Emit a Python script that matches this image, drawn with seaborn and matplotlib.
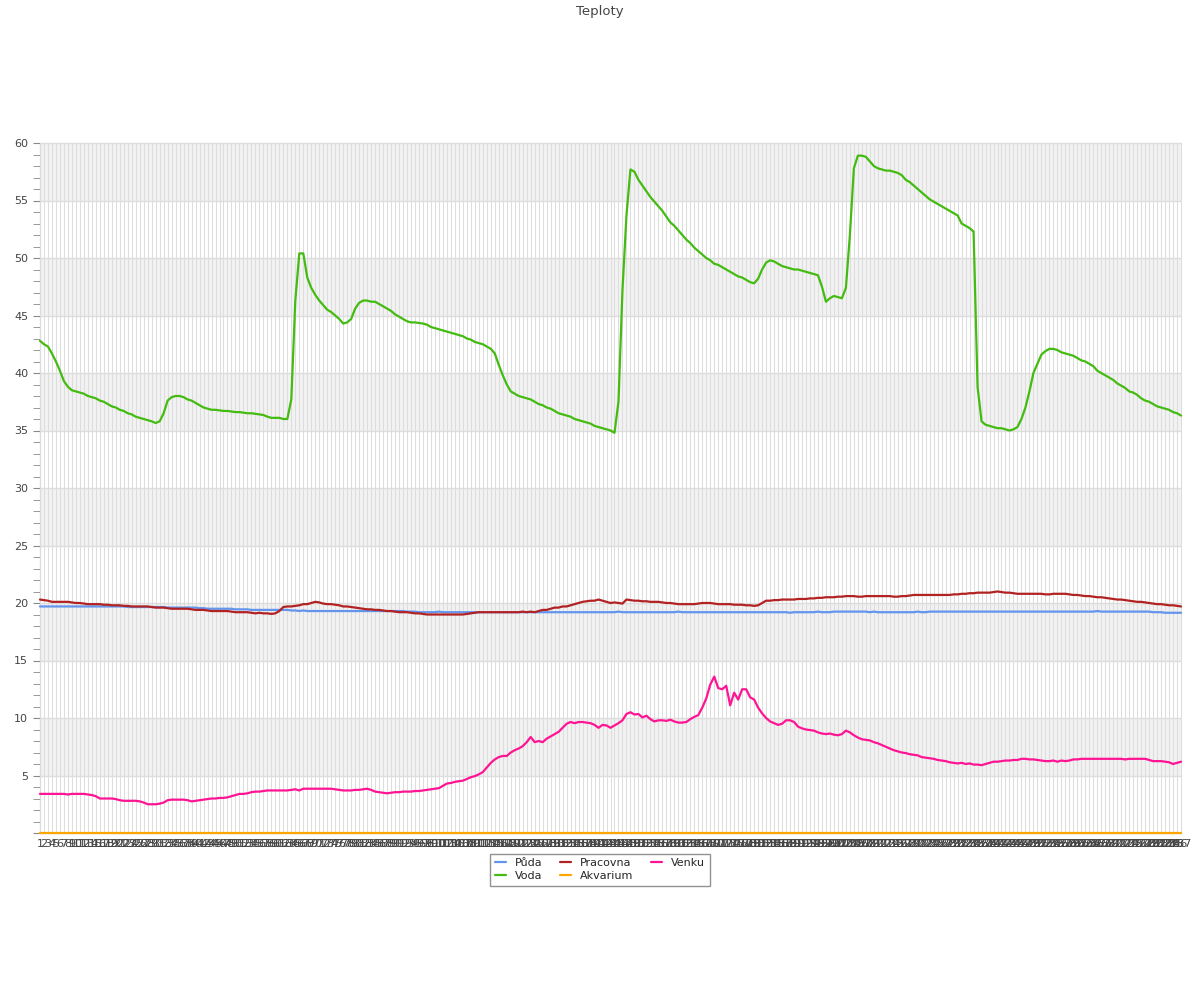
import pandas as pd
import matplotlib.pyplot as plt
import seaborn as sns

# hourly readings, categories 1..287
labels = [str(i) for i in range(1, 288)]

puda = [
    19.7, 19.7, 19.7, 19.7, 19.7, 19.7, 19.7, 19.7, 19.7, 19.7,
    19.7, 19.7, 19.7, 19.7, 19.7, 19.7, 19.7, 19.7, 19.7, 19.7,
    19.7, 19.7, 19.65, 19.65, 19.65, 19.65, 19.65, 19.65, 19.65, 19.65,
    19.65, 19.65, 19.6, 19.6, 19.6, 19.6, 19.6, 19.6, 19.6, 19.6,
    19.55, 19.55, 19.5, 19.5, 19.5, 19.5, 19.5, 19.5, 19.5, 19.45,
    19.45, 19.45, 19.45, 19.4, 19.4, 19.4, 19.4, 19.4, 19.4, 19.4,
    19.4, 19.4, 19.4, 19.35, 19.35, 19.3, 19.35, 19.3, 19.3, 19.3,
    19.3, 19.3, 19.3, 19.3, 19.3, 19.3, 19.3, 19.3, 19.3, 19.3,
    19.3, 19.3, 19.3, 19.3, 19.3, 19.3, 19.3, 19.3, 19.3, 19.3,
    19.3, 19.3, 19.25, 19.25, 19.25, 19.2, 19.2, 19.2, 19.2, 19.2,
    19.25, 19.2, 19.2, 19.2, 19.2, 19.2, 19.2, 19.2, 19.2, 19.2,
    19.2, 19.2, 19.2, 19.2, 19.2, 19.2, 19.2, 19.2, 19.2, 19.2,
    19.2, 19.2, 19.2, 19.2, 19.2, 19.2, 19.2, 19.2, 19.2, 19.2,
    19.2, 19.2, 19.2, 19.2, 19.2, 19.2, 19.2, 19.2, 19.2, 19.2,
    19.2, 19.2, 19.2, 19.2, 19.2, 19.25, 19.2, 19.2, 19.2, 19.2,
    19.2, 19.2, 19.2, 19.2, 19.2, 19.2, 19.2, 19.2, 19.2, 19.2,
    19.25, 19.2, 19.2, 19.2, 19.2, 19.2, 19.2, 19.2, 19.2, 19.2,
    19.2, 19.2, 19.2, 19.2, 19.2, 19.2, 19.2, 19.2, 19.2, 19.2,
    19.2, 19.2, 19.2, 19.2, 19.2, 19.2, 19.2, 19.2, 19.15, 19.2,
    19.2, 19.2, 19.2, 19.2, 19.2, 19.25, 19.2, 19.2, 19.2, 19.25,
    19.25, 19.25, 19.25, 19.25, 19.25, 19.25, 19.25, 19.25, 19.2, 19.25,
    19.2, 19.2, 19.2, 19.2, 19.2, 19.2, 19.2, 19.2, 19.2, 19.2,
    19.25, 19.2, 19.2, 19.25, 19.25, 19.25, 19.25, 19.25, 19.25, 19.25,
    19.25, 19.25, 19.25, 19.25, 19.25, 19.25, 19.25, 19.25, 19.25, 19.25,
    19.25, 19.25, 19.25, 19.25, 19.25, 19.25, 19.25, 19.25, 19.25, 19.25,
    19.25, 19.25, 19.25, 19.25, 19.25, 19.25, 19.25, 19.25, 19.25, 19.25,
    19.25, 19.25, 19.25, 19.25, 19.25, 19.3, 19.25, 19.25, 19.25, 19.25,
    19.25, 19.25, 19.25, 19.25, 19.25, 19.25, 19.25, 19.25, 19.25, 19.2,
    19.2, 19.2, 19.15, 19.15, 19.15, 19.15, 19.15,
]

voda = [
    42.8, 42.5, 42.3, 41.7, 41.0, 40.2, 39.3, 38.8, 38.5, 38.4,
    38.3, 38.2, 38.0, 37.9, 37.8, 37.6, 37.5, 37.3, 37.1, 37.0,
    36.8, 36.7, 36.5, 36.4, 36.2, 36.1, 36.0, 35.9, 35.8, 35.65,
    35.8, 36.5, 37.6, 37.9, 38.0, 38.0, 37.9, 37.7, 37.6, 37.4,
    37.2, 37.0, 36.9, 36.8, 36.8, 36.75, 36.7, 36.7, 36.65, 36.6,
    36.6, 36.55, 36.5, 36.5, 36.45, 36.4, 36.35, 36.2, 36.1, 36.1,
    36.1, 36.0, 36.0, 37.7, 46.3, 50.4, 50.4, 48.3, 47.4, 46.8,
    46.3, 45.9, 45.5, 45.3, 45.0, 44.7, 44.3, 44.4, 44.7, 45.6,
    46.1, 46.3, 46.3, 46.2, 46.2, 46.0, 45.8, 45.6, 45.4, 45.1,
    44.9, 44.7, 44.5, 44.4, 44.4, 44.35, 44.3, 44.2, 44.0, 43.9,
    43.8, 43.7, 43.6, 43.5, 43.4, 43.3, 43.2, 43.0, 42.9, 42.7,
    42.6, 42.5, 42.3, 42.1, 41.7, 40.7, 39.8, 39.0, 38.4, 38.2,
    38.0, 37.9, 37.8, 37.7, 37.5, 37.3, 37.2, 37.0, 36.9, 36.7,
    36.5, 36.4, 36.3, 36.2, 36.0, 35.9, 35.8, 35.7, 35.6, 35.4,
    35.3, 35.2, 35.1, 35.0, 34.8, 37.5, 47.2, 53.7, 57.7, 57.5,
    56.8, 56.3, 55.8, 55.3, 54.9, 54.5, 54.1, 53.6, 53.1, 52.8,
    52.4, 52.0, 51.6, 51.3, 50.9, 50.6, 50.3, 50.0, 49.8, 49.5,
    49.4, 49.2, 49.0, 48.8, 48.6, 48.4, 48.3, 48.1, 47.9, 47.8,
    48.2, 49.0, 49.6, 49.8, 49.7, 49.5, 49.3, 49.2, 49.1, 49.0,
    49.0, 48.9, 48.8, 48.7, 48.6, 48.5, 47.5, 46.2, 46.5, 46.7,
    46.6, 46.5, 47.4, 52.0, 57.8, 58.9, 58.9, 58.8, 58.4, 58.0,
    57.8, 57.7, 57.6, 57.6, 57.5, 57.4, 57.2, 56.8, 56.6, 56.3,
    56.0, 55.7, 55.4, 55.1, 54.9, 54.7, 54.5, 54.3, 54.1, 53.9,
    53.7, 53.0, 52.8, 52.6, 52.3, 38.8, 35.8, 35.5, 35.4, 35.3,
    35.2, 35.2, 35.1, 35.0, 35.1, 35.3, 36.0, 37.0, 38.4, 40.0,
    40.8, 41.6, 41.9, 42.1, 42.1, 42.0, 41.8, 41.7, 41.6, 41.5,
    41.3, 41.1, 41.0, 40.8, 40.6, 40.2, 40.0, 39.8, 39.6, 39.4,
    39.1, 38.9, 38.7, 38.4, 38.3, 38.1, 37.8, 37.6, 37.5, 37.3,
    37.1, 37.0, 36.9, 36.8, 36.6, 36.5, 36.3,
]

pracovna = [
    20.3, 20.25, 20.2, 20.1, 20.1, 20.1, 20.1, 20.1, 20.05, 20.0,
    20.0, 19.95, 19.9, 19.9, 19.9, 19.9, 19.85, 19.85, 19.8, 19.8,
    19.8, 19.75, 19.75, 19.7, 19.7, 19.7, 19.7, 19.7, 19.65, 19.6,
    19.6, 19.6, 19.55, 19.5, 19.5, 19.5, 19.5, 19.5, 19.45, 19.4,
    19.4, 19.4, 19.35, 19.3, 19.3, 19.3, 19.3, 19.3, 19.25, 19.2,
    19.2, 19.2, 19.2, 19.15, 19.1, 19.15, 19.1, 19.1, 19.05, 19.1,
    19.3, 19.65, 19.7, 19.7, 19.75, 19.8, 19.9, 19.9, 20.0, 20.1,
    20.05, 19.95, 19.9, 19.9, 19.85, 19.8, 19.7, 19.7, 19.65, 19.6,
    19.55, 19.5, 19.45, 19.45, 19.4, 19.4, 19.35, 19.3, 19.3, 19.25,
    19.2, 19.2, 19.2, 19.15, 19.1, 19.1, 19.05, 19.0, 19.0, 19.0,
    19.0, 19.0, 19.0, 19.0, 19.0, 19.0, 19.0, 19.05, 19.1, 19.15,
    19.2, 19.2, 19.2, 19.2, 19.2, 19.2, 19.2, 19.2, 19.2, 19.2,
    19.2, 19.25, 19.2, 19.25, 19.2, 19.3, 19.4, 19.4, 19.5, 19.6,
    19.6, 19.7, 19.7, 19.8, 19.9, 20.0, 20.1, 20.15, 20.2, 20.2,
    20.3, 20.2, 20.1, 20.0, 20.05, 20.0, 19.95, 20.3, 20.25, 20.2,
    20.2, 20.15, 20.15, 20.1, 20.1, 20.1, 20.05, 20.0, 20.0, 19.95,
    19.9, 19.9, 19.9, 19.9, 19.9, 19.95, 20.0, 20.0, 20.0, 19.95,
    19.9, 19.9, 19.9, 19.9, 19.85, 19.85, 19.85, 19.8, 19.8, 19.75,
    19.8, 20.0, 20.2, 20.2, 20.25, 20.25, 20.3, 20.3, 20.3, 20.3,
    20.35, 20.35, 20.35, 20.4, 20.4, 20.45, 20.45, 20.5, 20.5, 20.5,
    20.55, 20.55, 20.6, 20.6, 20.6, 20.55, 20.55, 20.6, 20.6, 20.6,
    20.6, 20.6, 20.6, 20.6, 20.55, 20.55, 20.6, 20.6, 20.65, 20.7,
    20.7, 20.7, 20.7, 20.7, 20.7, 20.7, 20.7, 20.7, 20.7, 20.75,
    20.75, 20.8, 20.8, 20.85, 20.85, 20.9, 20.9, 20.9, 20.9, 20.95,
    21.0, 20.95, 20.9, 20.9, 20.85, 20.8, 20.8, 20.8, 20.8, 20.8,
    20.8, 20.8, 20.75, 20.75, 20.8, 20.8, 20.8, 20.8, 20.75, 20.7,
    20.7, 20.65, 20.6, 20.6, 20.55, 20.5, 20.5, 20.45, 20.4, 20.35,
    20.3, 20.3, 20.25, 20.2, 20.15, 20.1, 20.1, 20.05, 20.0, 19.95,
    19.9, 19.9, 19.85, 19.8, 19.8, 19.75, 19.7,
]

akvarium = [
    0, 0, 0, 0, 0, 0, 0, 0, 0, 0, 0, 0, 0, 0, 0, 0, 0, 0, 0, 0,
    0, 0, 0, 0, 0, 0, 0, 0, 0, 0, 0, 0, 0, 0, 0, 0, 0, 0, 0, 0,
    0, 0, 0, 0, 0, 0, 0, 0, 0, 0, 0, 0, 0, 0, 0, 0, 0, 0, 0, 0,
    0, 0, 0, 0, 0, 0, 0, 0, 0, 0, 0, 0, 0, 0, 0, 0, 0, 0, 0, 0,
    0, 0, 0, 0, 0, 0, 0, 0, 0, 0, 0, 0, 0, 0, 0, 0, 0, 0, 0, 0,
    0, 0, 0, 0, 0, 0, 0, 0, 0, 0, 0, 0, 0, 0, 0, 0, 0, 0, 0, 0,
    0, 0, 0, 0, 0, 0, 0, 0, 0, 0, 0, 0, 0, 0, 0, 0, 0, 0, 0, 0,
    0, 0, 0, 0, 0, 0, 0, 0, 0, 0, 0, 0, 0, 0, 0, 0, 0, 0, 0, 0,
    0, 0, 0, 0, 0, 0, 0, 0, 0, 0, 0, 0, 0, 0, 0, 0, 0, 0, 0, 0,
    0, 0, 0, 0, 0, 0, 0, 0, 0, 0, 0, 0, 0, 0, 0, 0, 0, 0, 0, 0,
    0, 0, 0, 0, 0, 0, 0, 0, 0, 0, 0, 0, 0, 0, 0, 0, 0, 0, 0, 0,
    0, 0, 0, 0, 0, 0, 0, 0, 0, 0, 0, 0, 0, 0, 0, 0, 0, 0, 0, 0,
    0, 0, 0, 0, 0, 0, 0, 0, 0, 0, 0, 0, 0, 0, 0, 0, 0, 0, 0, 0,
    0, 0, 0, 0, 0, 0, 0, 0, 0, 0, 0, 0, 0, 0, 0, 0, 0, 0, 0, 0,
    0, 0, 0, 0, 0, 0, 0,
]

venku = [
    3.4, 3.4, 3.4, 3.4, 3.4, 3.4, 3.4, 3.35, 3.4, 3.4,
    3.4, 3.4, 3.35, 3.3, 3.2, 3.0, 3.0, 3.0, 3.0, 2.95,
    2.85, 2.8, 2.8, 2.8, 2.8, 2.75, 2.65, 2.5, 2.5, 2.5,
    2.55, 2.65, 2.85, 2.9, 2.9, 2.9, 2.9, 2.85, 2.75, 2.8,
    2.85, 2.9, 2.95, 3.0, 3.0, 3.05, 3.05, 3.1, 3.2, 3.3,
    3.4, 3.4, 3.45, 3.55, 3.6, 3.6, 3.65, 3.7, 3.7, 3.7,
    3.7, 3.7, 3.7, 3.75, 3.8, 3.7, 3.85, 3.85, 3.85, 3.85,
    3.85, 3.85, 3.85, 3.85, 3.8, 3.75, 3.7, 3.7, 3.7, 3.75,
    3.75, 3.8, 3.85, 3.75, 3.6, 3.55, 3.5, 3.45, 3.5, 3.55,
    3.55, 3.6, 3.6, 3.6, 3.65, 3.65, 3.7, 3.75, 3.8, 3.85,
    3.9, 4.1, 4.3, 4.35, 4.45, 4.5, 4.55, 4.7, 4.85, 4.95,
    5.1, 5.3, 5.7, 6.1, 6.4, 6.6, 6.7, 6.7, 7.0, 7.2,
    7.35, 7.55, 7.9, 8.35, 7.9, 8.0, 7.9, 8.2, 8.4, 8.6,
    8.8, 9.15, 9.5, 9.65, 9.55, 9.65, 9.65, 9.6, 9.55, 9.4,
    9.15, 9.4, 9.35, 9.15, 9.35, 9.55, 9.8, 10.35, 10.5, 10.3,
    10.35, 10.05, 10.2, 9.9, 9.7, 9.8, 9.8, 9.75, 9.85, 9.7,
    9.6, 9.6, 9.65, 9.9, 10.1, 10.25, 10.9, 11.7, 12.9, 13.6,
    12.6, 12.5, 12.8, 11.1, 12.2, 11.6, 12.5, 12.5, 11.8, 11.6,
    10.9, 10.4, 10.0, 9.7, 9.55, 9.4, 9.5, 9.8, 9.8, 9.65,
    9.25, 9.1, 9.0, 8.95, 8.9, 8.75, 8.65, 8.6, 8.65, 8.55,
    8.5, 8.6, 8.9, 8.75, 8.5, 8.3, 8.15, 8.1, 8.05, 7.9,
    7.8, 7.65, 7.5, 7.35, 7.2, 7.1, 7.0, 6.95, 6.85, 6.8,
    6.75, 6.6, 6.55, 6.5, 6.45, 6.35, 6.3, 6.25, 6.15, 6.1,
    6.05, 6.1, 6.0, 6.05, 5.95, 5.95, 5.9, 6.0, 6.1, 6.2,
    6.2, 6.25, 6.3, 6.3, 6.35, 6.35, 6.45, 6.45, 6.4, 6.4,
    6.35, 6.3, 6.25, 6.25, 6.3, 6.2, 6.3, 6.25, 6.3, 6.4,
    6.4, 6.45, 6.45, 6.45, 6.45, 6.45, 6.45, 6.45, 6.45, 6.45,
    6.45, 6.45, 6.4, 6.45, 6.45, 6.45, 6.45, 6.45, 6.35, 6.25,
    6.25, 6.25, 6.2, 6.15, 6.0, 6.1, 6.2,
]

series = {"Půda": puda, "Voda": voda, "Pracovna": pracovna,
          "Akvarium": akvarium, "Venku": venku}
colors = {"Půda": "#6495ED", "Voda": "#44BB11", "Pracovna": "#B22222",
          "Akvarium": "#FFA500", "Venku": "#FF1493"}

# long form table for seaborn
rows = []
for name, vals in series.items():
    for i, v in enumerate(vals):
        rows.append({"pos": i, "label": labels[i], "teplota": v, "serie": name})
df = pd.DataFrame(rows)

sns.set_style("white")
plt.rcParams["font.family"] = ["DejaVu Sans"]

fig = plt.figure(figsize=(12, 10), dpi=100)
ax = fig.add_axes([0.0333, 0.167, 0.9509, 0.690])

# alternating bands and grid
for lo in range(5, 60, 10):
    ax.axhspan(lo, lo + 5, color="#f2f2f2", zorder=0, lw=0)
for yv in range(5, 61, 5):
    ax.axhline(yv, color="#dddddd", lw=1, zorder=0.5)
for i in range(len(labels)):
    ax.axvline(i, color="#dddddd", lw=0.75, zorder=0.5)

sns.lineplot(data=df, x="pos", y="teplota", hue="serie", palette=colors,
             hue_order=list(series.keys()), linewidth=1.6, ax=ax, zorder=3)
for ln in ax.get_lines():
    ln.set_clip_on(False)
    ln.set_zorder(4)

ax.set_xlim(0, len(labels) - 1)
ax.set_ylim(0, 60)
ax.set_xticks(range(len(labels)))
ax.set_xticklabels(labels, fontsize=8, color="#444444")
ax.set_yticks(range(0, 61, 5))
ax.set_yticklabels([""] + [str(v) for v in range(5, 61, 5)], fontsize=8, color="#444444")
ax.set_yticks(range(0, 61), minor=True)
ax.tick_params(axis="y", which="both", direction="out", length=5, color="#888888", left=True)
ax.tick_params(axis="x", length=0, pad=4)
ax.set_xlabel("")
ax.set_ylabel("")
for s in ["top", "right"]:
    ax.spines[s].set_visible(False)
ax.spines["left"].set_color("#888888")
ax.spines["bottom"].set_color("#888888")
ax.spines["bottom"].set_zorder(1)

handles, labs = ax.get_legend_handles_labels()
ax.get_legend().remove()
fig.legend(handles, labs, loc="upper center", bbox_to_anchor=(0.5, 0.152), ncol=3,
           fontsize=8, frameon=True, fancybox=False, edgecolor="#777777",
           handlelength=1.0, columnspacing=1.6, borderpad=0.4, labelspacing=0.3)

fig.suptitle("Teploty", y=0.995, fontsize=9.5, color="#444444")
plt.savefig("out.png", dpi=100)
